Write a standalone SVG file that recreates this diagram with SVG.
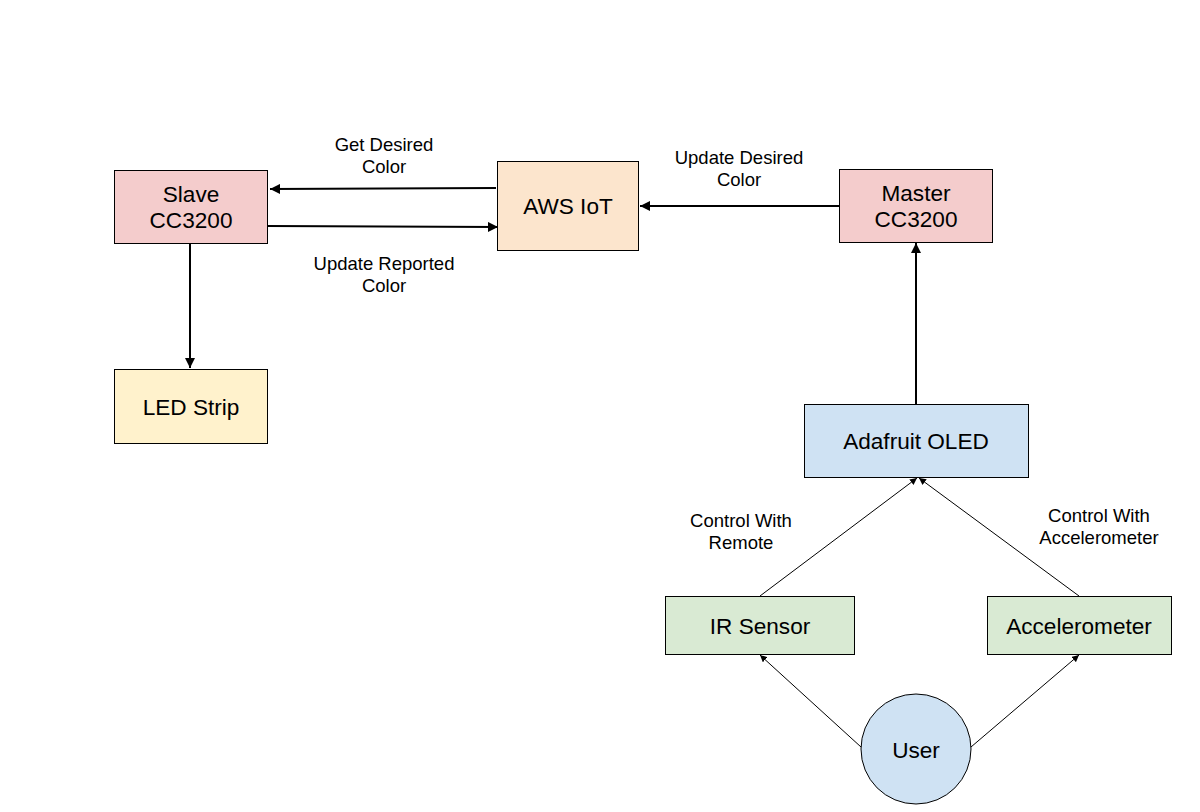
<svg xmlns="http://www.w3.org/2000/svg" width="1200" height="812" viewBox="0 0 1200 812">
<style>
.n{stroke:#000;stroke-width:1}
.t{font-family:"Liberation Sans",Arial,sans-serif;font-size:22.6px;fill:#000;text-anchor:middle;dominant-baseline:central}
.l{font-family:"Liberation Sans",Arial,sans-serif;font-size:18.5px;fill:#000;text-anchor:middle;dominant-baseline:central}
.thick{stroke:#000;stroke-width:2;fill:none}
.thin{stroke:#000;stroke-width:1;fill:none}
</style>
<defs>
<marker id="ah" viewBox="0 0 10 10" refX="10" refY="5" markerWidth="5" markerHeight="5" orient="auto" markerUnits="strokeWidth"><path d="M0,0L10,5L0,10z" fill="#000"/></marker>
<marker id="as" viewBox="0 0 10 10" refX="10" refY="5" markerWidth="7" markerHeight="7" orient="auto" markerUnits="strokeWidth"><path d="M0,0L10,5L0,10z" fill="#000"/></marker>
</defs>
<rect width="1200" height="812" fill="#fff"/>
<g id="connectors">
<line class="thick" x1="496" y1="188" x2="270" y2="189" marker-end="url(#ah)"/>
<line class="thick" x1="268" y1="226" x2="498" y2="227" marker-end="url(#ah)"/>
<line class="thick" x1="839" y1="206" x2="640" y2="206" marker-end="url(#ah)"/>
<line class="thick" x1="190" y1="243" x2="190" y2="368" marker-end="url(#ah)"/>
<line class="thick" x1="916" y1="404" x2="916" y2="243" marker-end="url(#ah)"/>
<line class="thin" x1="760" y1="596" x2="917" y2="478" marker-end="url(#as)"/>
<line class="thin" x1="1079" y1="596" x2="919" y2="478" marker-end="url(#as)"/>
<line class="thin" x1="861" y1="747" x2="760" y2="655" marker-end="url(#as)"/>
<line class="thin" x1="971" y1="747" x2="1079" y2="655" marker-end="url(#as)"/>
<text class="l" x="384" y="144">Get Desired</text>
<text class="l" x="384" y="166">Color</text>
<text class="l" x="384" y="263">Update Reported</text>
<text class="l" x="384" y="285">Color</text>
<text class="l" x="739" y="157">Update Desired</text>
<text class="l" x="739" y="179">Color</text>
<text class="l" x="741" y="520">Control With</text>
<text class="l" x="741" y="542">Remote</text>
<text class="l" x="1099" y="515">Control With</text>
<text class="l" x="1099" y="537">Accelerometer</text>
</g>
<g id="slave"><rect class="n" x="114.5" y="170.5" width="153" height="73" fill="#f4cccc"/><text class="t" x="191" y="194">Slave</text><text class="t" x="191" y="220">CC3200</text></g>
<g id="aws"><rect class="n" x="497.5" y="161.5" width="141" height="89" fill="#fce5cd"/><text class="t" x="568" y="206">AWS IoT</text></g>
<g id="master"><rect class="n" x="839.5" y="169.5" width="153" height="73" fill="#f4cccc"/><text class="t" x="916" y="193">Master</text><text class="t" x="916" y="219">CC3200</text></g>
<g id="led"><rect class="n" x="114.5" y="369.5" width="153" height="74" fill="#fff2cc"/><text class="t" x="191" y="407">LED Strip</text></g>
<g id="oled"><rect class="n" x="804.5" y="404.5" width="224" height="73" fill="#cfe2f3"/><text class="t" x="916" y="441">Adafruit OLED</text></g>
<g id="ir"><rect class="n" x="665.5" y="596.5" width="189" height="58" fill="#d9ead3"/><text class="t" x="760" y="626">IR Sensor</text></g>
<g id="accel"><rect class="n" x="987.5" y="596.5" width="184" height="58" fill="#d9ead3"/><text class="t" x="1079" y="626">Accelerometer</text></g>
<g id="user"><circle class="n" cx="916" cy="749" r="55" fill="#cfe2f3"/><text class="t" x="916" y="750">User</text></g>
</svg>
